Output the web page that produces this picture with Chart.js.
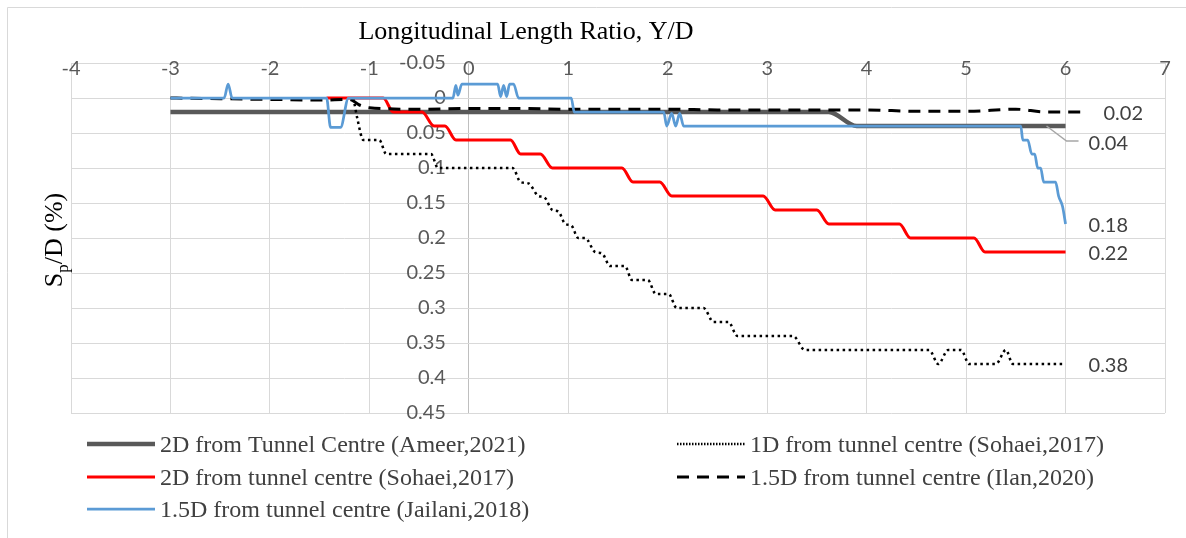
<!DOCTYPE html>
<html>
<head>
<meta charset="utf-8">
<script src="https://cdn.jsdelivr.net/npm/chart.js@4.4.1/dist/chart.umd.min.js"></script>
<style>
  html, body { margin: 0; padding: 0; background: #fff; }
  #wrap { width: 1186px; height: 538px; position: relative; }
</style>
</head>
<body>
<div id="wrap"><canvas id="chart"></canvas></div>
<script>
// settlement ratio Sp/D (%) against longitudinal length ratio Y/D
const xTickValues = [-4, -3, -2, -1, 0, 1, 2, 3, 4, 5, 6, 7];
const yTickValues = [-0.05, 0, 0.05, 0.1, 0.15, 0.2, 0.25, 0.3, 0.35, 0.4, 0.45];

const seriesNames = [
  '2D from Tunnel Centre (Ameer,2021)',
  '1D from tunnel centre (Sohaei,2017)',
  '2D from tunnel centre (Sohaei,2017)',
  '1.5D from tunnel centre (Ilan,2020)',
  '1.5D from tunnel centre (Jailani,2018)'
];

const ameerX = [-3, 3.62, 3.9, 6];
const ameerY = [0.02, 0.02, 0.04, 0.04];

const sohaei1X = [-1.16, -1.12, -1.06, -0.9, -0.83, -0.38, -0.31, 0.44, 0.52, 0.6, 0.7, 0.76, 0.84, 0.9, 0.97, 1.03,
  1.1, 1.17, 1.27, 1.34, 1.42, 1.57, 1.64, 1.8, 1.88, 2.01, 2.09, 2.36, 2.46, 2.61, 2.7, 3.26, 3.38, 4.63, 4.72,
  4.82, 4.95, 5.03, 5.3, 5.4, 5.47, 6];
const sohaei1Y = [0, 0.03, 0.06, 0.06, 0.08, 0.08, 0.1, 0.1, 0.12, 0.122, 0.14, 0.142, 0.16, 0.162, 0.18, 0.182,
  0.2, 0.2, 0.22, 0.222, 0.24, 0.24, 0.26, 0.26, 0.28, 0.28, 0.3, 0.3, 0.32, 0.32, 0.34, 0.34, 0.36, 0.36, 0.38,
  0.36, 0.36, 0.38, 0.38, 0.36, 0.38, 0.38];

const sohaei2X = [-1.43, -0.86, -0.76, -0.47, -0.35, -0.24, -0.13, 0.42, 0.52, 0.72, 0.84, 1.54, 1.65, 1.92, 2.04,
  2.96, 3.08, 3.5, 3.62, 4.33, 4.44, 5.08, 5.19, 6];
const sohaei2Y = [0, 0, 0.02, 0.02, 0.04, 0.04, 0.06, 0.06, 0.08, 0.08, 0.1, 0.1, 0.12, 0.12, 0.14,
  0.14, 0.16, 0.16, 0.18, 0.18, 0.2, 0.2, 0.22, 0.22];

const ilanX = [-3, -2.5, -2, -1.5, -1.2, -1.1, -1.0, -0.5, 0, 0.5, 1, 1.5, 2, 2.5, 3, 3.5, 4, 4.5, 5, 5.5, 5.8, 6.15];
const ilanY = [0, 0.001, 0.002, 0.003, 0.002, 0.01, 0.014, 0.016, 0.015, 0.015, 0.016, 0.016, 0.016, 0.017, 0.017,
  0.017, 0.017, 0.019, 0.019, 0.016, 0.02, 0.02];

const jailaniX = [-3, -2.46, -2.42, -2.38, -1.43, -1.39, -1.29, -1.21, -0.16, -0.13, -0.11, -0.07, 0.29, 0.32, 0.35,
  0.38, 0.41, 0.45, 0.5, 1.03, 1.06, 1.96, 1.99, 2.04, 2.08, 2.12, 2.16, 2.2, 5.55, 5.57, 5.62, 5.66, 5.69, 5.72,
  5.75, 5.78, 5.9, 5.93, 5.97, 6];
const jailaniY = [0, 0, -0.02, 0, 0, 0.042, 0.042, 0, 0, -0.018, -0.004, -0.02, -0.02, -0.002, -0.018,
  -0.002, -0.02, -0.02, 0, 0, 0.02, 0.02, 0.04, 0.022, 0.04, 0.022, 0.04, 0.04, 0.04, 0.06, 0.06, 0.08, 0.08, 0.1,
  0.1, 0.12, 0.12, 0.14, 0.155, 0.18];

function pts(xs, ys) {
  return xs.map((x, i) => ({ x: x, y: ys[i] }));
}

const tickFont = { family: 'Lato', size: 20 };
const serif = '"Liberation Serif", "DejaVu Serif", serif';

// legend slots: [column x, row y] per dataset
const legendSlots = [[87, 444], [677, 444], [87, 477], [677, 477], [87, 509]];

const sketchPlugin = {
  id: 'sketch',
  beforeDraw(chart) {
    const ctx = chart.ctx;
    ctx.save();
    ctx.fillStyle = '#fff';
    ctx.fillRect(0, 0, chart.width, chart.height);
    ctx.strokeStyle = '#d9d9d9';
    ctx.lineWidth = 1;
    ctx.beginPath();
    ctx.moveTo(7.5, chart.height);
    ctx.lineTo(7.5, 7.5);
    ctx.lineTo(chart.width, 7.5);
    ctx.stroke();
    ctx.restore();
  },
  afterDatasetsDraw(chart) {
    const ctx = chart.ctx;
    const xs = chart.scales.x, ys = chart.scales.y;
    ctx.save();
    ctx.font = '20px Lato';
    ctx.fillStyle = '#404040';
    ctx.textBaseline = 'middle';
    chart.data.datasets.forEach((ds, i) => {
      const last = ds.data[ds.data.length - 1];
      const px = xs.getPixelForValue(last.x);
      const py = ys.getPixelForValue(last.y);
      let dy = 0;
      if (i === 0) {
        dy = 16;
        ctx.strokeStyle = '#a6a6a6';
        ctx.lineWidth = 1.5;
        ctx.setLineDash([]);
        ctx.beginPath();
        ctx.moveTo(px - 19, py);
        ctx.lineTo(px + 1, py + 15);
        ctx.lineTo(px + 13, py + 15);
        ctx.stroke();
      }
      ctx.fillText(last.y.toFixed(2), px + 23, py + dy + 2);
    });
    ctx.restore();
  },
  afterDraw(chart) {
    const ctx = chart.ctx;
    ctx.save();
    // top axis title
    ctx.fillStyle = '#000';
    ctx.font = '26px ' + serif;
    ctx.textAlign = 'center';
    ctx.textBaseline = 'alphabetic';
    ctx.fillText('Longitudinal Length Ratio, Y/D', 526, 39);

    // vertical axis title with subscript
    ctx.translate(62, 240);
    ctx.rotate(-Math.PI / 2);
    ctx.textAlign = 'left';
    const big = '26px ' + serif, small = '17px ' + serif;
    ctx.font = big;
    const wS = ctx.measureText('S').width;
    const wRest = ctx.measureText('/D (%)').width;
    ctx.font = small;
    const wp = ctx.measureText('p').width;
    let x0 = -(wS + wp + wRest) / 2;
    ctx.font = big;
    ctx.fillText('S', x0, 0);
    ctx.font = small;
    ctx.fillText('p', x0 + wS, 6);
    ctx.font = big;
    ctx.fillText('/D (%)', x0 + wS + wp, 0);
    ctx.setTransform(1, 0, 0, 1, 0, 0);

    // legend in two columns
    ctx.font = '24px ' + serif;
    ctx.fillStyle = '#404040';
    ctx.textAlign = 'left';
    chart.data.datasets.forEach((ds, i) => {
      const [lx, ly] = legendSlots[i];
      ctx.strokeStyle = ds.borderColor;
      ctx.lineWidth = ds.borderWidth;
      ctx.lineCap = ds.borderCapStyle || 'butt';
      ctx.setLineDash(ds.legendDash || ds.borderDash || []);
      ctx.beginPath();
      ctx.moveTo(lx, ly);
      ctx.lineTo(lx + 68, ly);
      ctx.stroke();
      ctx.fillText(ds.label, lx + 73, ly + 8);
    });
    ctx.restore();
  }
};

new Chart(document.getElementById('chart'), {
  type: 'line',
  data: {
    datasets: [
      {
        label: seriesNames[0], data: pts(ameerX, ameerY),
        borderColor: '#595959', borderWidth: 4.5, order: 5
      },
      {
        label: seriesNames[1], data: pts(sohaei1X, sohaei1Y),
        borderColor: '#000000', borderWidth: 2.5, borderDash: [2.5, 3.5], legendDash: [1.5, 1.5], order: 4
      },
      {
        label: seriesNames[2], data: pts(sohaei2X, sohaei2Y),
        borderColor: '#ff0000', borderWidth: 3, order: 3
      },
      {
        label: seriesNames[3], data: pts(ilanX, ilanY),
        borderColor: '#000000', borderWidth: 3, borderDash: [12, 8], order: 2
      },
      {
        label: seriesNames[4], data: pts(jailaniX, jailaniY),
        borderColor: '#5b9bd5', borderWidth: 2.75, order: 1
      }
    ]
  },
  options: {
    responsive: true,
    maintainAspectRatio: false,
    animation: false,
    layout: { padding: { left: 71, right: 21, top: 63, bottom: 125 } },
    elements: {
      point: { radius: 0 },
      line: { cubicInterpolationMode: 'monotone', fill: false }
    },
    plugins: {
      legend: { display: false },
      tooltip: { enabled: false }
    },
    scales: {
      x: {
        type: 'linear',
        position: { y: -0.05 },
        min: xTickValues[0],
        max: xTickValues[xTickValues.length - 1],
        afterBuildTicks: (s) => { s.ticks = xTickValues.map(v => ({ value: v })); },
        ticks: { padding: -6, color: '#595959', font: tickFont, maxRotation: 0, autoSkip: false },
        grid: {
          color: (c) => (c.tick && c.tick.value === 0 ? '#bfbfbf' : '#d9d9d9'),
          drawTicks: false
        },
        border: { color: '#d9d9d9' }
      },
      y: {
        type: 'linear',
        // labels sit right-aligned just left of the x = 0 line
        position: { x: -0.23 },
        reverse: true,
        min: yTickValues[0],
        max: yTickValues[yTickValues.length - 1],
        afterBuildTicks: (s) => { s.ticks = yTickValues.map(v => ({ value: v })); },
        ticks: {
          color: '#595959', font: tickFont, autoSkip: false,
          callback: (v) => String(+Number(v).toFixed(2))
        },
        grid: { color: '#d9d9d9', drawTicks: false },
        border: { display: false }
      }
    }
  },
  plugins: [sketchPlugin]
});
</script>
</body>
</html>
